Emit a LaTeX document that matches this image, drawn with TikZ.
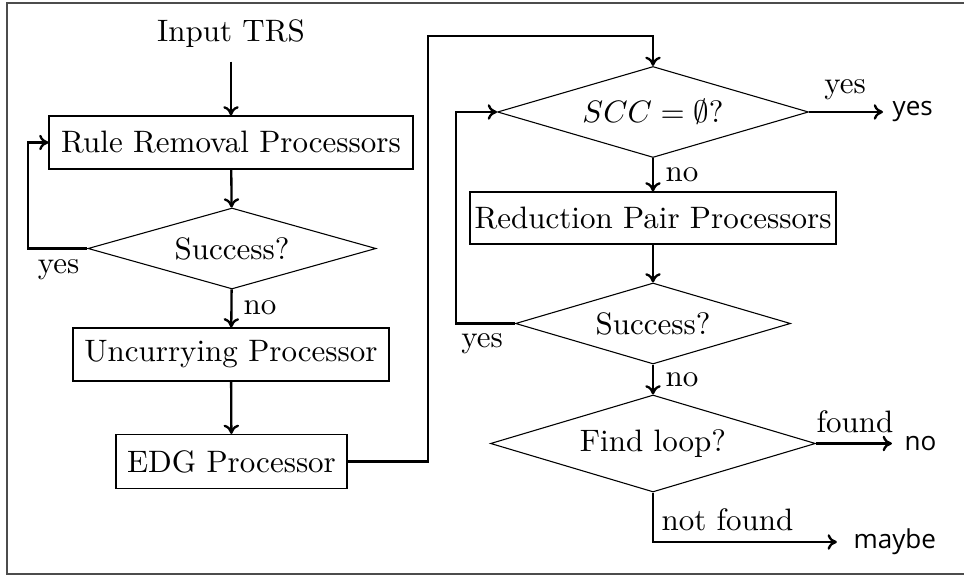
\documentclass[tikz,border=0pt]{standalone}
\usepackage{fontspec}
\newfontfamily\outfont{Open Sans}
\usetikzlibrary{shapes.geometric,arrows.meta}
\begin{document}
\begin{tikzpicture}[x=0.3225pt,y=-0.3225pt,
  box/.style 2 args={draw, line width=0.35pt, inner sep=0pt, minimum width={#1*0.3225pt}, minimum height={#2*0.3225pt}},
  dia/.style 2 args={draw, diamond, aspect=3, line width=0.35pt, inner sep=0pt, minimum width={#1*0.3225pt}, minimum height={#2*0.3225pt}},
  conn/.style={-{To[length=3pt,width=5pt]}, line width=0.75pt},
  lbl/.style={inner sep=0pt},
  outl/.style={font=\outfont\fontsize{8.4}{10}\selectfont, inner sep=0pt, anchor=west}]
\useasboundingbox (0,0) rectangle (964,577);
\draw[gray!60!black, line width=0.4pt] (964,3) -- (7,3) -- (7,574) -- (964,574);
% nodes
\node[inner sep=0pt, minimum height={54*0.3225pt}] (in) at (231,34) {Input TRS};
\node[box={364}{53}] (rr) at (231,142.5) {Rule Removal Processors};
\node[dia={288}{81}] (d1) at (232,248.5) {Success?};
\node[box={316}{53}] (uc) at (231,354.5) {Uncurrying Processor};
\node[box={231}{54}] (edg) at (231.5,461.5) {EDG Processor};
\node[dia={311}{91}] (scc) at (653,112) {$SCC=\emptyset$?};
\node[box={366}{52}] (rp) at (653,218) {Reduction Pair Processors};
\node[dia={275}{81}] (d2) at (653,323.5) {Success?};
\node[dia={325}{97}] (fl) at (653,443.5) {Find loop?};
\node[outl] (oyes) at (892,112) {yes};
\node[outl] (ono) at (904,443.5) {no};
\node[outl] (omay) at (853,542) {maybe};
\coordinate (c1) at (28,142.5);
\coordinate (c2) at (428,36);
\coordinate (c3) at (456,112);
\coordinate (c4) at (653,542);
% connectors
\draw[conn] (in) -- (rr);
\draw[conn] (rr) -- (d1);
\draw[conn] (d1.west) -| (c1) -- (rr.west);
\draw[conn] (d1) -- (uc);
\draw[conn] (uc) -- (edg);
\draw[conn] (edg.east) -| (c2) -| (scc.north);
\draw[conn, shorten >=2.9pt] (scc.east) -- (oyes.west);
\draw[conn] (scc) -- (rp);
\draw[conn] (rp) -- (d2);
\draw[conn] (d2.west) -| (c3) -- (scc.west);
\draw[conn] (d2) -- (fl);
\draw[conn, shorten >=3.9pt] (fl.east) -- (ono.west);
\draw[conn, shorten >=5.2pt] (fl.south) -- (c4) -- (omay.west);
% labels
\node[lbl] (l1) at (58.5,270) {yes};
\node[lbl, anchor=west] (l2) at (243,308) {no};
\node[lbl] (l3) at (845,89.5) {yes};
\node[lbl, anchor=west] (l4) at (665,174.5) {no};
\node[lbl] (l5) at (482,344) {yes};
\node[lbl, anchor=west] (l6) at (665,380) {no};
\node[lbl] (l7) at (855,422) {found};
\node[lbl] (l8) at (727.5,520) {not found};
\end{tikzpicture}
\end{document}
